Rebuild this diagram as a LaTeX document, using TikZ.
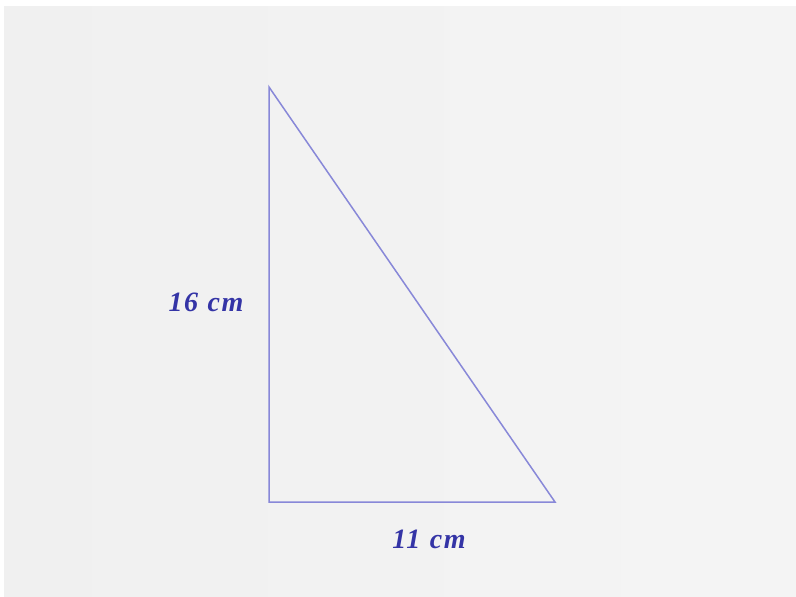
\documentclass[tikz,border=0pt]{standalone}
\usepackage{fontspec}
\setmainfont{Liberation Serif}[LetterSpace=6]
\definecolor{bgc}{HTML}{F0F0F0}
\definecolor{linec}{HTML}{8888D8}
\definecolor{txtc}{HTML}{3434A6}
\begin{document}
\begin{tikzpicture}[x=1pt,y=-1pt,
  side/.style={draw=linec,line width=1.5pt},
  lbl/.style={text=txtc,font=\fontsize{28}{32}\selectfont\bfseries\itshape,inner sep=0pt}]
\useasboundingbox (0,0) rectangle (796,597);
\fill[white] (0,0) rectangle (796,597);
\shade[left color=bgc,right color=bgc!70!white] (4,6) rectangle (796,597);
\coordinate (A) at (269,87);
\coordinate (B) at (269,502);
\coordinate (C) at (555,502);
\draw[side] (A) -- (B) -- (C) -- cycle;
\node[lbl] (l16) at (206,302) {16\,\,cm};
\node[lbl] (l11) at (429,539) {11\,\,cm};
\end{tikzpicture}
\end{document}
